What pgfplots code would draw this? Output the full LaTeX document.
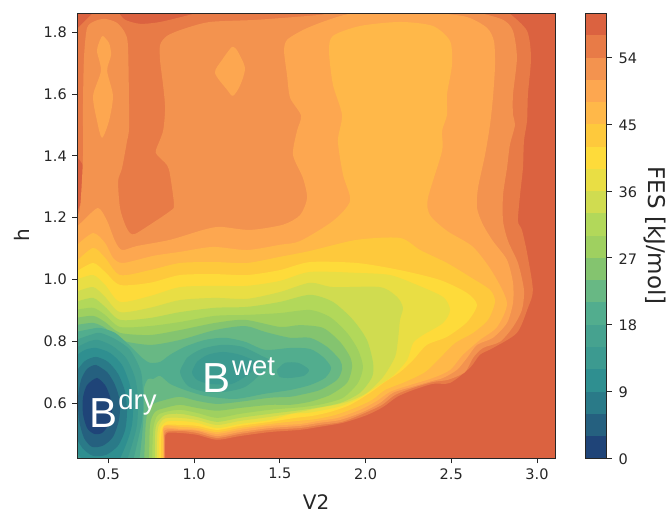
\documentclass[border=0pt]{standalone}
\usepackage{fontspec}
\usepackage{pgfplots}
\pgfplotsset{compat=1.18}
\setmainfont{DejaVu Sans}
\newfontfamily\arial{Liberation Sans}
\definecolor{c1}{HTML}{1F4478}
\definecolor{c2}{HTML}{25607F}
\definecolor{c3}{HTML}{2A7A88}
\definecolor{c4}{HTML}{2F8F90}
\definecolor{c5}{HTML}{3C9A90}
\definecolor{c6}{HTML}{46A28F}
\definecolor{c7}{HTML}{52AD8E}
\definecolor{c8}{HTML}{68B884}
\definecolor{c9}{HTML}{84C46F}
\definecolor{c10}{HTML}{9FD060}
\definecolor{c11}{HTML}{B2D85A}
\definecolor{c12}{HTML}{D0DC50}
\definecolor{c13}{HTML}{E9DE44}
\definecolor{c14}{HTML}{FEDB3A}
\definecolor{c15}{HTML}{FEC93C}
\definecolor{c16}{HTML}{FFB849}
\definecolor{c17}{HTML}{FDA750}
\definecolor{c18}{HTML}{F3934F}
\definecolor{c19}{HTML}{E87B47}
\definecolor{c20}{HTML}{DB6240}
\definecolor{inkc}{HTML}{262626}
\pgfplotsset{
  band/.style={fill=#1,draw=none,forget plot,mark=none},
  sband/.style={fill=#1,draw=none,forget plot,mark=none,smooth,tension=0.45},
  common/.style={scale only axis,anchor=south west,
    tick align=outside,major tick length=5pt,
    tick style={color=inkc,line width=0.9pt},
    axis line style={color=inkc,line width=0.9pt},
    tick label style={font=\fontsize{14.5}{15}\selectfont,color=inkc},
    axis on top,
    /pgf/number format/assume math mode=true}
}
\begin{document}
\begin{tikzpicture}[x=1pt,y=1pt]
\path[use as bounding box] (0,0) rectangle (670,514);
\begin{axis}[common,at={(77.3pt,55.7pt)},width=477.7pt,height=445.3pt,
  xmin=0.319,xmax=3.105,ymin=0.421,ymax=1.862,
  xtick={0.5,1.0,1.5,2.0,2.5,3.0},ytick={0.6,0.8,1.0,1.2,1.4,1.6,1.8},
  xtick pos=bottom,ytick pos=left,
  xticklabel style={yshift=-1.5pt},yticklabel style={xshift=-2pt},
  xlabel={V2},ylabel={h},
  xlabel style={font=\fontsize{20}{21}\selectfont,color=inkc,at={(axis description cs:0.5,0)},anchor=base,yshift=-51pt},
  ylabel style={font=\fontsize{20}{21}\selectfont,color=inkc,at={(axis description cs:0,0.5)},anchor=base,yshift=48pt},
  /pgf/number format/.cd,fixed,fixed zerofill,precision=1,assume math mode=true,
  /pgfplots/.cd,
  axis background/.style={fill=c20}]
% level 19
\addplot[sband=c19] coordinates {(.31,1.807)(.370,1.840)(.405,1.859)(.45,1.875)(.52,1.875)(.557,1.864)(.598,1.840)(.685,1.827)(.802,1.833)(.994,1.859)(1.035,1.87)(1.3,1.88)(1.7,1.88)(2.1,1.88)(2.5,1.88)(2.8,1.875)(2.842,1.86)(2.942,1.804)(2.965,1.717)(2.947,1.598)(2.942,1.513)(2.924,1.448)(2.918,1.360)(2.901,1.273)(2.889,1.189)(2.912,1.160)(2.942,1.086)(2.976,.966)(2.947,.908)(2.883,.827)(2.743,.778)(2.667,.756)(2.609,.714)(2.493,.665)(2.393,.662)(2.277,.642)(2.184,.620)(2.102,.587)(2.008,.561)(1.869,.536)(1.734,.523)(1.618,.513)(1.443,.506)(1.268,.493)(1.134,.481)(1.017,.497)(.918,.503)(.842,.503)(.831,.481)(.831,.39)(.831,.37)(.31,.37)} -- cycle;
\addplot[sband=c20] coordinates {(.30,1.19)(.31,1.208)(.335,1.241)(.358,1.273)(.376,1.338)(.352,1.370)(.31,1.403)(.30,1.42)} -- cycle;
% level 18
\addplot[sband=c18] coordinates {(.31,1.199)(.335,1.231)(.352,1.393)(.352,1.555)(.358,1.717)(.376,1.814)(.422,1.836)(.481,1.843)(.551,1.830)(.598,1.797)(.615,1.749)(.621,1.500)(.609,1.448)(.580,1.360)(.557,1.318)(.568,1.231)(.598,1.177)(.626,1.150)(.656,1.147)(.743,1.177)(.860,1.221)(.883,1.241)(.860,1.338)(.842,1.370)(.784,1.403)(.778,1.419)(.819,1.480)(.831,1.555)(.819,1.630)(.802,1.707)(.802,1.759)(.842,1.788)(.936,1.810)(1.093,1.833)(1.367,1.840)(1.734,1.856)(1.764,1.864)(1.9,1.875)(2.2,1.88)(2.5,1.875)(2.650,1.864)(2.802,1.840)(2.860,1.804)(2.883,1.717)(2.860,1.598)(2.860,1.532)(2.872,1.500)(2.842,1.435)(2.825,1.360)(2.802,1.273)(2.802,1.189)(2.831,1.124)(2.889,1.053)(2.924,.966)(2.912,.901)(2.860,.846)(2.784,.798)(2.685,.778)(2.627,.746)(2.580,.700)(2.481,.675)(2.393,.668)(2.277,.649)(2.172,.626)(2.096,.594)(1.997,.568)(1.863,.539)(1.734,.529)(1.618,.519)(1.443,.513)(1.268,.500)(1.134,.487)(1.017,.503)(.918,.510)(.836,.506)(.827,.481)(.827,.39)(.827,.37)(.31,.37)} -- cycle;
% level 17
\addplot[sband=c17] coordinates {(.31,1.167)(.352,1.189)(.440,1.231)(.493,1.189)(.539,1.124)(.580,1.095)(.667,1.108)(.860,1.128)(1.052,1.160)(1.151,1.170)(1.326,1.160)(1.519,1.177)(1.618,1.208)(1.659,1.263)(1.635,1.328)(1.577,1.403)(1.600,1.480)(1.624,1.530)(1.560,1.588)(1.542,1.662)(1.525,1.739)(1.542,1.775)(1.635,1.807)(1.734,1.830)(1.851,1.852)(1.950,1.864)(2.1,1.875)(2.25,1.875)(2.393,1.864)(2.592,1.849)(2.708,1.814)(2.749,1.771)(2.755,1.691)(2.743,1.588)(2.726,1.500)(2.697,1.403)(2.656,1.296)(2.650,1.231)(2.685,1.177)(2.743,1.124)(2.825,1.063)(2.860,.989)(2.860,.924)(2.825,.859)(2.743,.811)(2.650,.788)(2.592,.746)(2.533,.707)(2.452,.681)(2.388,.671)(2.271,.652)(2.160,.633)(2.084,.600)(1.985,.571)(1.851,.545)(1.734,.536)(1.618,.526)(1.443,.519)(1.268,.506)(1.134,.493)(1.017,.510)(.918,.513)(.831,.513)(.825,.481)(.825,.39)(.825,.37)(.31,.37)} -- cycle;
\addplot[sband=c17] coordinates {(.469,1.788)(.504,1.765)(.516,1.726)(.493,1.675)(.527,1.594)(.504,1.513)(.463,1.458)(.434,1.513)(.411,1.594)(.457,1.675)(.434,1.739)(.452,1.775)(.469,1.788)(.504,1.765)} -- cycle;
\addplot[sband=c17] coordinates {(1.221,1.752)(1.250,1.742)(1.297,1.684)(1.268,1.627)(1.227,1.594)(1.192,1.614)(1.122,1.668)(1.163,1.710)(1.221,1.752)(1.250,1.742)} -- cycle;
% level 16
\addplot[sband=c16] coordinates {(.31,1.108)(.411,1.150)(.481,1.118)(.527,1.070)(.586,1.053)(.761,1.076)(.918,1.089)(1.110,1.105)(1.309,1.095)(1.501,1.112)(1.618,1.124)(1.810,1.189)(1.910,1.254)(1.869,1.338)(1.839,1.448)(1.863,1.532)(1.810,1.630)(1.787,1.739)(1.810,1.788)(1.968,1.820)(2.201,1.833)(2.393,1.820)(2.493,1.771)(2.504,1.694)(2.475,1.598)(2.475,1.532)(2.446,1.480)(2.446,1.415)(2.364,1.263)(2.376,1.208)(2.475,1.157)(2.627,1.105)(2.743,1.021)(2.825,.924)(2.767,.846)(2.667,.804)(2.568,.756)(2.493,.707)(2.393,.681)(2.259,.658)(2.143,.636)(2.067,.607)(1.968,.578)(1.839,.552)(1.723,.542)(1.618,.532)(1.443,.526)(1.268,.513)(1.134,.500)(1.017,.513)(.918,.516)(.825,.519)(.822,.481)(.822,.39)(.822,.37)(.31,.37)} -- cycle;
% level 15
\addplot[sband=c15] coordinates {(.31,1.056)(.411,1.102)(.481,1.070)(.568,1.014)(.743,1.030)(.918,1.053)(1.122,1.056)(1.309,1.053)(1.501,1.073)(1.676,1.092)(1.950,1.128)(2.201,1.134)(2.318,1.095)(2.475,1.053)(2.609,1.008)(2.726,.966)(2.755,.927)(2.714,.869)(2.627,.827)(2.522,.794)(2.434,.746)(2.347,.700)(2.230,.668)(2.113,.642)(2.038,.610)(1.938,.584)(1.822,.561)(1.711,.548)(1.606,.542)(1.443,.532)(1.268,.519)(1.134,.506)(1.017,.519)(.918,.523)(.825,.526)(.819,.481)(.819,.39)(.819,.37)(.31,.37)} -- cycle;
% level 14
\addplot[sband=c14] coordinates {(.31,1.024)(.411,1.053)(.481,1.024)(.568,.982)(.743,.989)(.918,1.014)(1.122,1.017)(1.309,1.014)(1.501,1.030)(1.676,1.056)(1.950,1.053)(2.201,1.030)(2.434,.998)(2.592,.956)(2.650,.917)(2.592,.862)(2.475,.814)(2.358,.788)(2.277,.739)(2.201,.700)(2.113,.668)(2.026,.633)(1.910,.594)(1.793,.571)(1.688,.558)(1.594,.552)(1.443,.539)(1.268,.526)(1.134,.513)(1.017,.526)(.918,.529)(.825,.527)(.807,.481)(.807,.39)(.807,.37)(.31,.37)} -- cycle;
% level 13
\addplot[sband=c13] coordinates {(.31,.998)(.411,1.014)(.481,.982)(.568,.927)(.743,.946)(.918,.975)(1.122,.979)(1.309,.979)(1.501,.995)(1.676,1.024)(1.950,1.021)(2.143,1.014)(2.300,.982)(2.452,.943)(2.493,.901)(2.452,.859)(2.335,.820)(2.277,.794)(2.242,.739)(2.160,.688)(2.055,.649)(1.968,.617)(1.863,.591)(1.764,.578)(1.664,.568)(1.571,.565)(1.443,.545)(1.268,.532)(1.134,.519)(1.017,.536)(.918,.542)(.84,.54)(.805,.52)(.796,.481)(.796,.39)(.796,.37)(.31,.37)} -- cycle;
% level 12
\addplot[sband=c12] coordinates {(.31,.959)(.411,.975)(.481,.943)(.568,.894)(.743,.908)(.918,.933)(1.122,.940)(1.309,.937)(1.501,.959)(1.676,.989)(1.810,.975)(2.084,.975)(2.184,.943)(2.218,.908)(2.201,.869)(2.189,.804)(2.172,.749)(2.102,.684)(2.008,.633)(1.910,.607)(1.822,.594)(1.723,.584)(1.618,.571)(1.443,.555)(1.268,.542)(1.134,.529)(1.017,.545)(.918,.552)(.83,.55)(.793,.525)(.784,.481)(.784,.39)(.784,.37)(.31,.37)} -- cycle;
% level 11
\addplot[sband=c11] coordinates {(.31,.927)(.411,.940)(.481,.911)(.568,.869)(.743,.875)(.918,.894)(1.122,.908)(1.309,.911)(1.501,.927)(1.676,.950)(1.810,.927)(1.927,.869)(2.008,.804)(2.044,.730)(2.038,.684)(1.968,.633)(1.851,.600)(1.676,.581)(1.443,.565)(1.268,.552)(1.134,.539)(1.017,.555)(.918,.565)(.831,.561)(.784,.535)(.772,.497)(.772,.39)(.772,.37)(.31,.37)} -- cycle;
% level 10
\addplot[sband=c10] coordinates {(.31,.901)(.411,.908)(.481,.885)(.568,.846)(.743,.849)(.918,.862)(1.122,.882)(1.309,.885)(1.501,.891)(1.676,.901)(1.793,.878)(1.892,.827)(1.956,.772)(1.985,.717)(1.956,.665)(1.869,.617)(1.752,.597)(1.635,.587)(1.443,.578)(1.268,.565)(1.134,.552)(1.017,.568)(.918,.578)(.831,.571)(.784,.558)(.761,.513)(.755,.39)(.755,.37)(.31,.37)} -- cycle;
% level 9
\addplot[sband=c9] coordinates {(.31,.875)(.411,.882)(.481,.862)(.568,.827)(.743,.820)(.918,.836)(1.122,.859)(1.297,.869)(1.501,.846)(1.618,.852)(1.752,.843)(1.851,.798)(1.910,.749)(1.921,.714)(1.892,.665)(1.793,.626)(1.676,.604)(1.560,.594)(1.443,.594)(1.268,.584)(1.134,.575)(1.017,.584)(.918,.594)(.831,.584)(.772,.571)(.743,.529)(.737,.39)(.737,.37)(.31,.37)} -- cycle;
% level 8
\addplot[sband=c8] coordinates {(.31,.852)(.411,.859)(.481,.843)(.568,.804)(.743,.788)(.918,.804)(1.122,.836)(1.297,.849)(1.414,.830)(1.560,.811)(1.676,.811)(1.775,.782)(1.851,.739)(1.863,.710)(1.834,.675)(1.734,.642)(1.618,.626)(1.560,.620)(1.443,.617)(1.268,.604)(1.134,.597)(1.017,.607)(.918,.620)(.831,.610)(.755,.594)(.720,.545)(.708,.39)(.708,.37)(.31,.37)} -- cycle;
% level 7
\addplot[sband=c7] coordinates {(.31,.830)(.393,.839)(.452,.843)(.539,.827)(.626,.785)(.697,.746)(.743,.730)(.802,.733)(.860,.756)(.947,.782)(1.064,.804)(1.180,.811)(1.297,.798)(1.414,.772)(1.560,.778)(1.676,.775)(1.752,.749)(1.799,.714)(1.764,.681)(1.676,.658)(1.560,.642)(1.414,.630)(1.239,.613)(1.064,.623)(.947,.642)(.860,.662)(.802,.688)(.761,.678)(.731,.678)(.708,.649)(.708,.594)(.702,.529)(.691,.465)(.675,.39)(.672,.37)(.31,.37)} -- cycle;
% level 6
\addplot[sband=c6] coordinates {(.31,.804)(.393,.820)(.452,.827)(.539,.807)(.626,.772)(.691,.700)(.702,.610)(.697,.545)(.673,.481)(.635,.39)(.63,.37)(.31,.37)} -- cycle;
\addplot[sband=c6] coordinates {(.918,.700)(.959,.746)(1.046,.775)(1.163,.788)(1.280,.782)(1.396,.752)(1.455,.733)(1.396,.697)(1.297,.652)(1.180,.636)(1.064,.636)(.965,.655)(.918,.700)(.959,.746)} -- cycle;
\addplot[sband=c6] coordinates {(1.484,.707)(1.530,.730)(1.606,.730)(1.659,.714)(1.670,.704)(1.641,.688)(1.560,.681)(1.501,.684)(1.484,.707)(1.530,.730)} -- cycle;
% level 5
\addplot[sband=c5] coordinates {(.31,.778)(.382,.798)(.440,.804)(.522,.785)(.603,.746)(.656,.681)(.673,.610)(.667,.529)(.638,.465)(.595,.39)(.59,.37)(.31,.37)} -- cycle;
\addplot[sband=c5] coordinates {(.988,.700)(1.017,.733)(1.081,.756)(1.169,.765)(1.268,.756)(1.367,.730)(1.326,.697)(1.221,.662)(1.093,.662)(1.017,.675)(.988,.700)(1.017,.733)} -- cycle;
% level 4
\addplot[sband=c4] coordinates {(.31,.752)(.364,.772)(.428,.778)(.510,.762)(.580,.723)(.626,.658)(.644,.594)(.638,.529)(.609,.474)(.557,.41)(.5,.40)(.42,.40)(.358,.41)(.31,.448)} -- cycle;
% level 3
\addplot[sband=c3] coordinates {(.31,.700)(.364,.736)(.428,.749)(.498,.733)(.557,.694)(.598,.636)(.609,.571)(.598,.513)(.557,.462)(.487,.432)(.411,.429)(.352,.452)(.31,.490)} -- cycle;
% level 2
\addplot[sband=c2] coordinates {(.428,.723)(.493,.700)(.539,.658)(.568,.604)(.562,.545)(.527,.490)(.469,.462)(.405,.458)(.358,.487)(.329,.545)(.323,.617)(.341,.675)(.376,.710)(.428,.723)(.493,.700)} -- cycle;
% level 1
\addplot[sband=c1] coordinates {(.434,.681)(.481,.658)(.510,.620)(.522,.578)(.504,.532)(.463,.503)(.417,.500)(.376,.519)(.352,.565)(.352,.617)(.376,.658)(.434,.681)(.481,.658)} -- cycle;
\node[anchor=base west,inner sep=0pt,text=white,font=\arial\fontsize{42}{42}\selectfont] at (axis cs:0.387,0.522) {B};
\node[anchor=base west,inner sep=0pt,text=white,font=\arial\fontsize{27.5}{28}\selectfont] at (axis cs:0.557,0.578) {dry};
\node[anchor=base west,inner sep=0pt,text=white,font=\arial\fontsize{42}{42}\selectfont] at (axis cs:1.046,0.633) {B};
\node[anchor=base west,inner sep=0pt,text=white,font=\arial\fontsize{27.5}{28}\selectfont] at (axis cs:1.221,0.688) {wet};
\end{axis}
\fill[white] (70,501) rectangle (562,508);
\draw[inkc,line width=0.9pt] (77.3,55.7) rectangle (555,501);
\begin{axis}[common,at={(585pt,55.7pt)},width=21.7pt,height=445.3pt,
  xmin=0,xmax=1,ymin=0,ymax=60,
  xtick=\empty,ytick={0,9,18,27,36,45,54},ytick pos=right,yticklabel pos=right,
  yticklabel style={xshift=3.5pt,yshift=-1pt},
  ylabel={FES [kJ/mol]},
  ylabel style={font=\fontsize{23}{24}\selectfont,color=inkc,at={(axis description cs:1,0.5)},anchor=base,rotate=180,yshift=41.4pt}]
\addplot[band=c1] coordinates {(0,0)(1,0)(1,3)(0,3)} -- cycle;
\addplot[band=c2] coordinates {(0,3)(1,3)(1,6)(0,6)} -- cycle;
\addplot[band=c3] coordinates {(0,6)(1,6)(1,9)(0,9)} -- cycle;
\addplot[band=c4] coordinates {(0,9)(1,9)(1,12)(0,12)} -- cycle;
\addplot[band=c5] coordinates {(0,12)(1,12)(1,15)(0,15)} -- cycle;
\addplot[band=c6] coordinates {(0,15)(1,15)(1,18)(0,18)} -- cycle;
\addplot[band=c7] coordinates {(0,18)(1,18)(1,21)(0,21)} -- cycle;
\addplot[band=c8] coordinates {(0,21)(1,21)(1,24)(0,24)} -- cycle;
\addplot[band=c9] coordinates {(0,24)(1,24)(1,27)(0,27)} -- cycle;
\addplot[band=c10] coordinates {(0,27)(1,27)(1,30)(0,30)} -- cycle;
\addplot[band=c11] coordinates {(0,30)(1,30)(1,33)(0,33)} -- cycle;
\addplot[band=c12] coordinates {(0,33)(1,33)(1,36)(0,36)} -- cycle;
\addplot[band=c13] coordinates {(0,36)(1,36)(1,39)(0,39)} -- cycle;
\addplot[band=c14] coordinates {(0,39)(1,39)(1,42)(0,42)} -- cycle;
\addplot[band=c15] coordinates {(0,42)(1,42)(1,45)(0,45)} -- cycle;
\addplot[band=c16] coordinates {(0,45)(1,45)(1,48)(0,48)} -- cycle;
\addplot[band=c17] coordinates {(0,48)(1,48)(1,51)(0,51)} -- cycle;
\addplot[band=c18] coordinates {(0,51)(1,51)(1,54)(0,54)} -- cycle;
\addplot[band=c19] coordinates {(0,54)(1,54)(1,57)(0,57)} -- cycle;
\addplot[band=c20] coordinates {(0,57)(1,57)(1,60)(0,60)} -- cycle;
\end{axis}
\end{tikzpicture}
\end{document}
